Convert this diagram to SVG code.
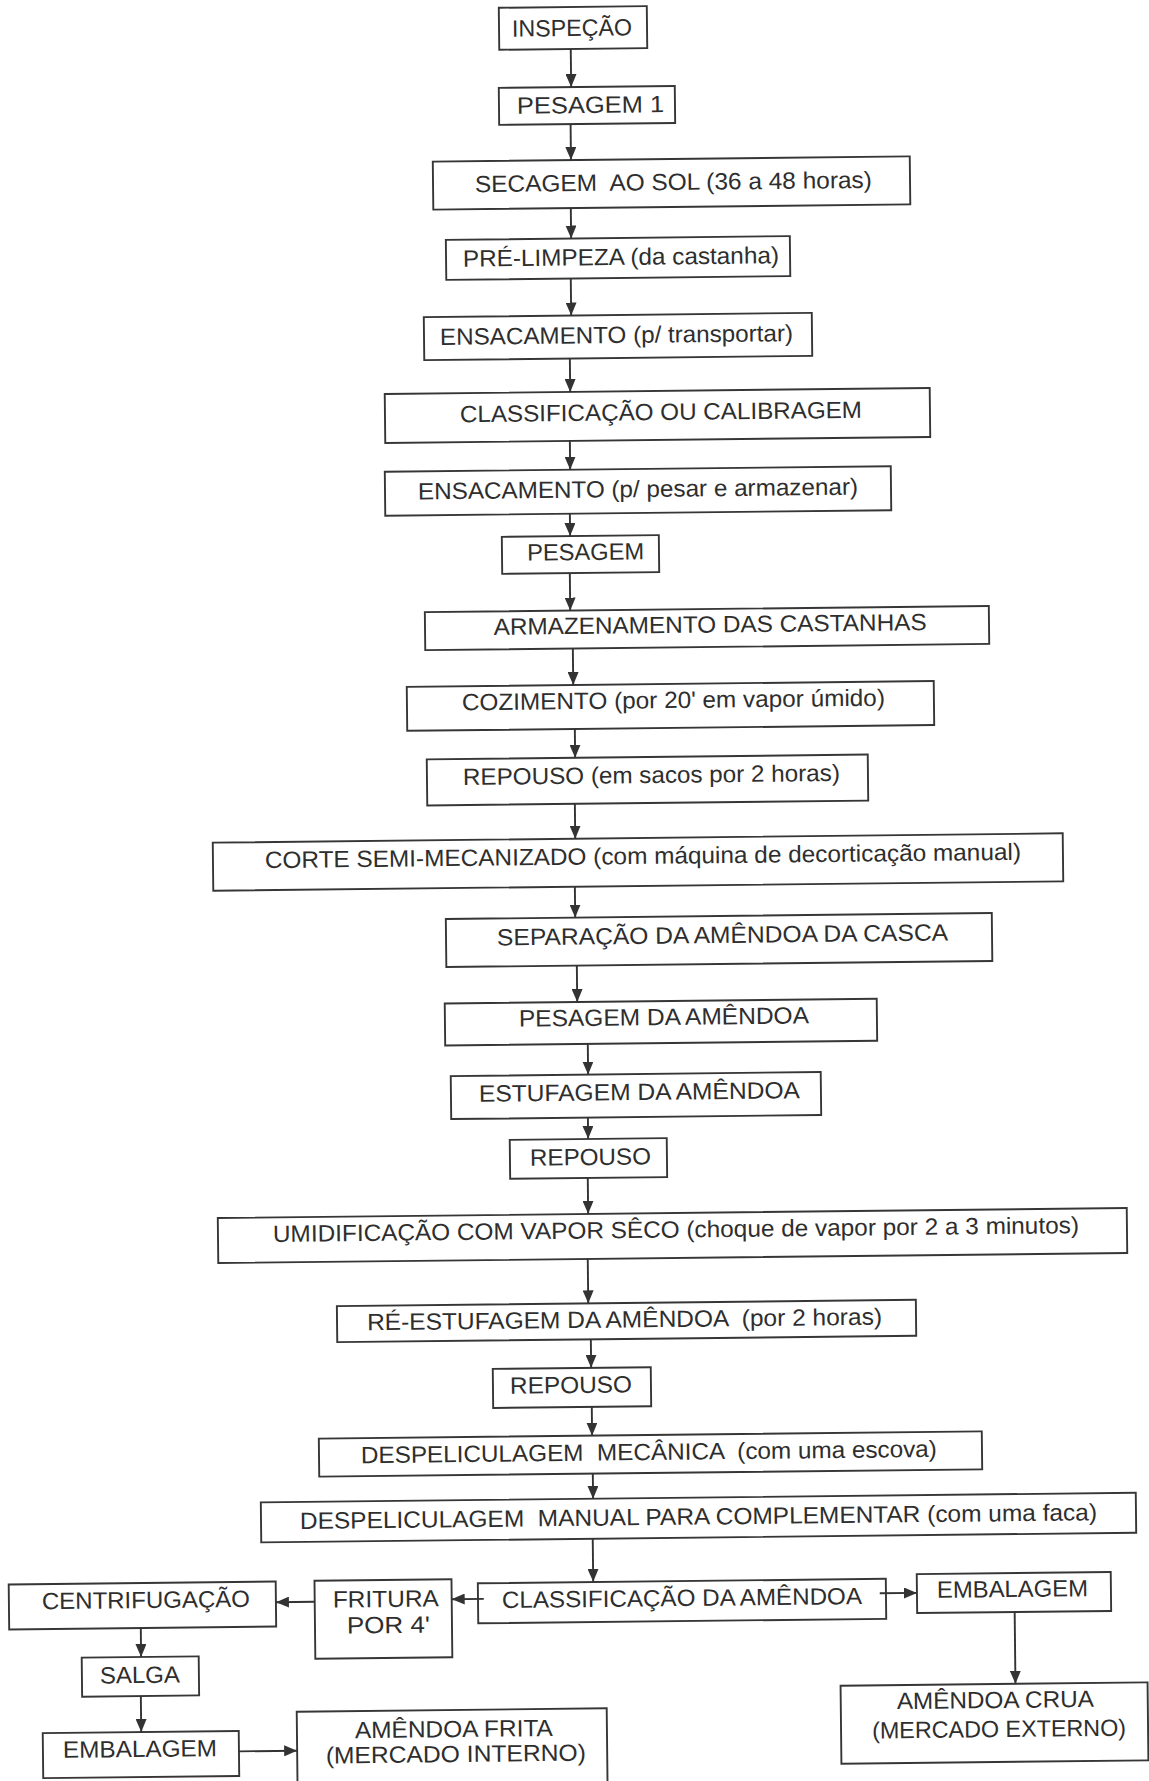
<svg xmlns="http://www.w3.org/2000/svg" width="1149" height="1781" viewBox="0 0 1149 1781">
  <style>
    .box { fill: none; stroke: #363636; stroke-width: 1.9; }
    .lbl { font-family: "Liberation Sans", Arial, sans-serif; font-size: 23.5px; fill: #2e2e2e; text-anchor: middle; white-space: pre; }
    .con { stroke: #333333; stroke-width: 1.9; fill: none; marker-end: url(#arrow); }
  </style>
  <defs>
    <marker id="arrow" markerUnits="userSpaceOnUse" markerWidth="13" markerHeight="11" refX="13" refY="5.5" orient="auto">
      <path d="M0,0 L13,5.5 L0,11 z" fill="#333333"/>
    </marker>
  </defs>
  <rect x="0" y="0" width="1149" height="1781" fill="#ffffff"/>
  <!-- the printed page sits slightly skewed -->
  <g transform="rotate(-0.63 575 890)">
    <g id="nodes">
      <g id="n01"><rect class="box" x="508.5" y="7" width="148" height="42"/><text class="lbl" x="581.5" y="36" textLength="120" lengthAdjust="spacingAndGlyphs">INSPEÇÃO</text></g>
      <g id="n02"><rect class="box" x="507.6" y="87.1" width="176" height="37"/><text class="lbl" x="599.1" y="113.2" textLength="147" lengthAdjust="spacingAndGlyphs">PESAGEM 1</text></g>
      <g id="n03"><rect class="box" x="440.8" y="160.1" width="477" height="48"/><text class="lbl" x="681.2" y="191.1" textLength="397" lengthAdjust="spacingAndGlyphs">SECAGEM  AO SOL (36 a 48 horas)</text></g>
      <g id="n04"><rect class="box" x="453" y="238.5" width="344" height="40"/><text class="lbl" x="627.9" y="265.5" textLength="316" lengthAdjust="spacingAndGlyphs">PRÉ-LIMPEZA (da castanha)</text></g>
      <g id="n05"><rect class="box" x="430.1" y="315.5" width="388" height="43"/><text class="lbl" x="622.6" y="343.5" textLength="353" lengthAdjust="spacingAndGlyphs">ENSACAMENTO (p/ transportar)</text></g>
      <g id="n06"><rect class="box" x="390.2" y="391.9" width="545" height="49"/><text class="lbl" x="666.2" y="421" textLength="402" lengthAdjust="spacingAndGlyphs">CLASSIFICAÇÃO OU CALIBRAGEM</text></g>
      <g id="n07"><rect class="box" x="389.4" y="469.7" width="506" height="44"/><text class="lbl" x="642.4" y="497.7" textLength="440" lengthAdjust="spacingAndGlyphs">ENSACAMENTO (p/ pesar e armazenar)</text></g>
      <g id="n08"><rect class="box" x="505.7" y="536.1" width="157" height="37"/><text class="lbl" x="589.3" y="560.1" textLength="117" lengthAdjust="spacingAndGlyphs">PESAGEM</text></g>
      <g id="n09"><rect class="box" x="427.9" y="610.5" width="564" height="38"/><text class="lbl" x="713" y="634" textLength="433" lengthAdjust="spacingAndGlyphs">ARMAZENAMENTO DAS CASTANHAS</text></g>
      <g id="n10"><rect class="box" x="409" y="685" width="527" height="44"/><text class="lbl" x="675.5" y="709.1" textLength="423" lengthAdjust="spacingAndGlyphs">COZIMENTO (por 20' em vapor úmido)</text></g>
      <g id="n11"><rect class="box" x="428.2" y="757.8" width="441" height="46"/><text class="lbl" x="652.7" y="783.8" textLength="377" lengthAdjust="spacingAndGlyphs">REPOUSO (em sacos por 2 horas)</text></g>
      <g id="n12"><rect class="box" x="213.3" y="838.7" width="850" height="48"/><text class="lbl" x="643.3" y="864.7" textLength="756" lengthAdjust="spacingAndGlyphs">CORTE SEMI-MECANIZADO (com máquina de decorticação manual)</text></g>
      <g id="n13"><rect class="box" x="445.5" y="917.6" width="546" height="48"/><text class="lbl" x="722" y="944.6" textLength="451" lengthAdjust="spacingAndGlyphs">SEPARAÇÃO DA AMÊNDOA DA CASCA</text></g>
      <g id="n14"><rect class="box" x="443.5" y="1002" width="432" height="42"/><text class="lbl" x="662.5" y="1026" textLength="290" lengthAdjust="spacingAndGlyphs">PESAGEM DA AMÊNDOA</text></g>
      <g id="n15"><rect class="box" x="448.7" y="1074.7" width="370" height="43"/><text class="lbl" x="637.2" y="1100.7" textLength="321" lengthAdjust="spacingAndGlyphs">ESTUFAGEM DA AMÊNDOA</text></g>
      <g id="n16"><rect class="box" x="507" y="1139.1" width="157" height="39"/><text class="lbl" x="587.5" y="1165.2" textLength="121" lengthAdjust="spacingAndGlyphs">REPOUSO</text></g>
      <g id="n17"><rect class="box" x="214.2" y="1214.1" width="909" height="45"/><text class="lbl" x="672.2" y="1238.6" textLength="806" lengthAdjust="spacingAndGlyphs">UMIDIFICAÇÃO COM VAPOR SÊCO (choque de vapor por 2 a 3 minutos)</text></g>
      <g id="n18"><rect class="box" x="332.3" y="1303.5" width="579" height="36"/><text class="lbl" x="619.8" y="1328" textLength="515" lengthAdjust="spacingAndGlyphs">RÉ-ESTUFAGEM DA AMÊNDOA  (por 2 horas)</text></g>
      <g id="n19"><rect class="box" x="487.5" y="1368" width="158" height="39"/><text class="lbl" x="565.5" y="1393" textLength="122" lengthAdjust="spacingAndGlyphs">REPOUSO</text></g>
      <g id="n20"><rect class="box" x="312.8" y="1435.8" width="663" height="38"/><text class="lbl" x="642.7" y="1460.8" textLength="576" lengthAdjust="spacingAndGlyphs">DESPELICULAGEM  MECÂNICA  (com uma escova)</text></g>
      <g id="n21"><rect class="box" x="254.1" y="1498.9" width="875" height="40"/><text class="lbl" x="691.6" y="1525.9" textLength="797" lengthAdjust="spacingAndGlyphs">DESPELICULAGEM  MANUAL PARA COMPLEMENTAR (com uma faca)</text></g>
      <g id="n22"><rect class="box" x="470.2" y="1582.2" width="408" height="40"/><text class="lbl" x="674.2" y="1607.2" textLength="360" lengthAdjust="spacingAndGlyphs">CLASSIFICAÇÃO DA AMÊNDOA</text></g>
      <g id="n23"><rect class="box" x="306.9" y="1577.9" width="137" height="78"/><text class="lbl" x="378" y="1604.9" textLength="106" lengthAdjust="spacingAndGlyphs">FRITURA</text><text class="lbl" x="380.3" y="1631" textLength="83" lengthAdjust="spacingAndGlyphs">POR 4'</text></g>
      <g id="n24"><rect class="box" x="1.1" y="1578.2" width="267" height="45"/><text class="lbl" x="138.1" y="1603.3" textLength="208" lengthAdjust="spacingAndGlyphs">CENTRIFUGAÇÃO</text></g>
      <g id="n25"><rect class="box" x="73.3" y="1652.2" width="117" height="39"/><text class="lbl" x="131.3" y="1678.2" textLength="80" lengthAdjust="spacingAndGlyphs">SALGA</text></g>
      <g id="n26"><rect class="box" x="33.5" y="1727.2" width="196" height="45"/><text class="lbl" x="130.5" y="1752.2" textLength="154" lengthAdjust="spacingAndGlyphs">EMBALAGEM</text></g>
      <g id="n27"><rect class="box" x="287.7" y="1708.6" width="310" height="80"/><text class="lbl" x="444.6" y="1735.7" textLength="198" lengthAdjust="spacingAndGlyphs">AMÊNDOA FRITA</text><text class="lbl" x="446.3" y="1760.7" textLength="260" lengthAdjust="spacingAndGlyphs">(MERCADO INTERNO)</text></g>
      <g id="n28"><rect class="box" x="909.2" y="1577.8" width="194" height="39"/><text class="lbl" x="1004.7" y="1601.8" textLength="151" lengthAdjust="spacingAndGlyphs">EMBALAGEM</text></g>
      <g id="n29"><rect class="box" x="831.8" y="1688.6" width="307" height="78"/><text class="lbl" x="986.4" y="1712.6" textLength="197" lengthAdjust="spacingAndGlyphs">AMÊNDOA CRUA</text><text class="lbl" x="989.8" y="1741.7" textLength="254" lengthAdjust="spacingAndGlyphs">(MERCADO EXTERNO)</text></g>
    </g>
    <g id="connectors">
      <line class="con" x1="580" y1="49" x2="580" y2="87"/>
      <line class="con" x1="579" y1="124" x2="579" y2="160"/>
      <line class="con" x1="578.3" y1="208" x2="578.3" y2="238.5"/>
      <line class="con" x1="577.5" y1="278.5" x2="577.5" y2="315.5"/>
      <line class="con" x1="575.7" y1="358.5" x2="575.7" y2="392"/>
      <line class="con" x1="574.8" y1="441" x2="574.8" y2="469.7"/>
      <line class="con" x1="574" y1="513.7" x2="574" y2="536"/>
      <line class="con" x1="573.3" y1="573" x2="573.3" y2="610.5"/>
      <line class="con" x1="575.5" y1="648.5" x2="575.5" y2="685"/>
      <line class="con" x1="576.6" y1="729" x2="576.6" y2="757.8"/>
      <line class="con" x1="575.8" y1="803.8" x2="575.8" y2="838.7"/>
      <line class="con" x1="574.9" y1="886.7" x2="574.9" y2="917.6"/>
      <line class="con" x1="576" y1="965.6" x2="576" y2="1002"/>
      <line class="con" x1="586.1" y1="1044" x2="586.1" y2="1074.7"/>
      <line class="con" x1="585.4" y1="1117.7" x2="585.4" y2="1139"/>
      <line class="con" x1="584.6" y1="1178" x2="584.6" y2="1214"/>
      <line class="con" x1="583.7" y1="1259" x2="583.7" y2="1303.5"/>
      <line class="con" x1="585.9" y1="1339.5" x2="585.9" y2="1368"/>
      <line class="con" x1="586.1" y1="1407" x2="586.1" y2="1435.8"/>
      <line class="con" x1="586.4" y1="1473.8" x2="586.4" y2="1499"/>
      <line class="con" x1="585.6" y1="1539" x2="585.6" y2="1582"/>
      <line class="con" x1="476" y1="1597.8" x2="443.9" y2="1597.8"/>
      <line class="con" x1="306.9" y1="1598.9" x2="268.1" y2="1598.9"/>
      <line class="con" x1="132.7" y1="1623.2" x2="132.7" y2="1652.2"/>
      <line class="con" x1="132" y1="1691.2" x2="132" y2="1727.2"/>
      <line class="con" x1="229.5" y1="1747.6" x2="287.7" y2="1747.6"/>
      <line class="con" x1="872" y1="1596.6" x2="909.2" y2="1596.6"/>
      <line class="con" x1="1006.7" y1="1616.8" x2="1006.7" y2="1688.6"/>
    </g>
  </g>
</svg>
